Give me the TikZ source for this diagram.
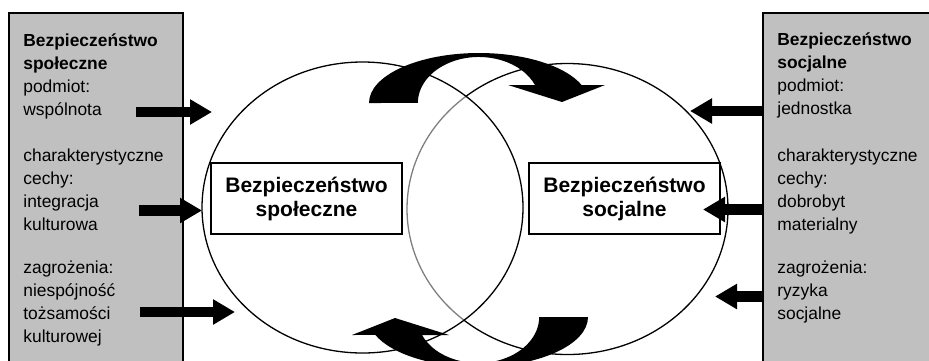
\documentclass[tikz,border=0pt]{standalone}
\usepackage{fontspec}
\setmainfont{Liberation Sans}
\usetikzlibrary{arrows.meta,shapes.geometric}
\definecolor{szary}{HTML}{C0C0C0}

\begin{document}
\begin{tikzpicture}[x=.5pt,y=-.5pt,
	ramka/.style={draw, line width=.75pt, fill=white, minimum width=95.5pt, minimum height=35.5pt, inner sep=0pt, align=center, font=\fontsize{10.5}{12}\selectfont\bfseries},
	opis/.style={anchor=base west, inner sep=0pt, align=left, font=\fontsize{8.7}{11.5}\selectfont},
	elipsa/.style={ellipse, draw, line width=.65pt, fill=white, minimum width=160.5pt, minimum height=145.5pt, inner sep=0pt},
	strzalka/.style={line width=5.3pt, -{Triangle[length=11pt,width=12pt]}}]
	%\draw[help lines] (0,0) grid[step=50] (929,360);
	\useasboundingbox (0,0) rectangle (929,360);
	\clip (0,0) rectangle (929,360);
	\draw[fill=szary, line width=.7pt] (9,13) rectangle (183,380);
	\draw[fill=szary, line width=.7pt] (763,13) rectangle (945,380);
	% dwa pola
	\node[elipsa] (socj) at (567.5,209) {};
	\node[elipsa, fill opacity=.5] (spol) at (362.5,207.5) {};
	\node[ramka] (spol-r) at (306.5,198.5) {Bezpieczeństwo\\społeczne};
	\node[ramka] (socj-r) at (624.5,198.5) {Bezpieczeństwo\\socjalne};
	% luki
	\fill (369,103) arc[start angle=180, end angle=339, x radius=110, y radius=50]
		-- (605,85) -- (562,102) -- (508,85) -- (535,85)
		arc[start angle=337, end angle=180, x radius=61, y radius=46] -- cycle;
	\fill[rotate around={180:(478.5,210)}] (369,103) arc[start angle=180, end angle=339, x radius=110, y radius=50]
		-- (605,85) -- (562,102) -- (508,85) -- (535,85)
		arc[start angle=337, end angle=180, x radius=61, y radius=46] -- cycle;
	% opisy (kotwica na ostatniej linii)
	\node[opis] (spol-a) at (23,115) {\textbf{Bezpieczeństwo}\\\textbf{społeczne}\\podmiot:\\wspólnota};
	\node[opis] (spol-b) at (23,230) {charakterystyczne\\cechy:\\integracja\\kulturowa};
	\node[opis] (spol-c) at (23,342) {zagrożenia:\\niespójność\\tożsamości\\kulturowej};
	\node[opis] (socj-a) at (777,114) {\textbf{Bezpieczeństwo}\\\textbf{socjalne}\\podmiot:\\jednostka};
	\node[opis] (socj-b) at (777,230) {charakterystyczne\\cechy:\\dobrobyt\\materialny};
	\node[opis] (socj-c) at (777,319) {zagrożenia:\\ryzyka\\socjalne};
	\path
		(136,112) coordinate (A1) (212,112) coordinate (B1)
		(139,210.5) coordinate (A2) (202,210.5) coordinate (B2)
		(140,312) coordinate (A3) (235,312) coordinate (B3)
		(764,111) coordinate (C1) (690,111) coordinate (D1)
		(764,209.5) coordinate (C2) (703,209.5) coordinate (D2)
		(764,296.5) coordinate (C3) (715,296.5) coordinate (D3)
	;
	\draw[strzalka] (A1) -- (B1);
	\draw[strzalka] (A2) -- (B2);
	\draw[strzalka] (A3) -- (B3);
	\draw[strzalka] (C1) -- (D1);
	\draw[strzalka] (C2) -- (D2);
	\draw[strzalka] (C3) -- (D3);
\end{tikzpicture}
\end{document}
